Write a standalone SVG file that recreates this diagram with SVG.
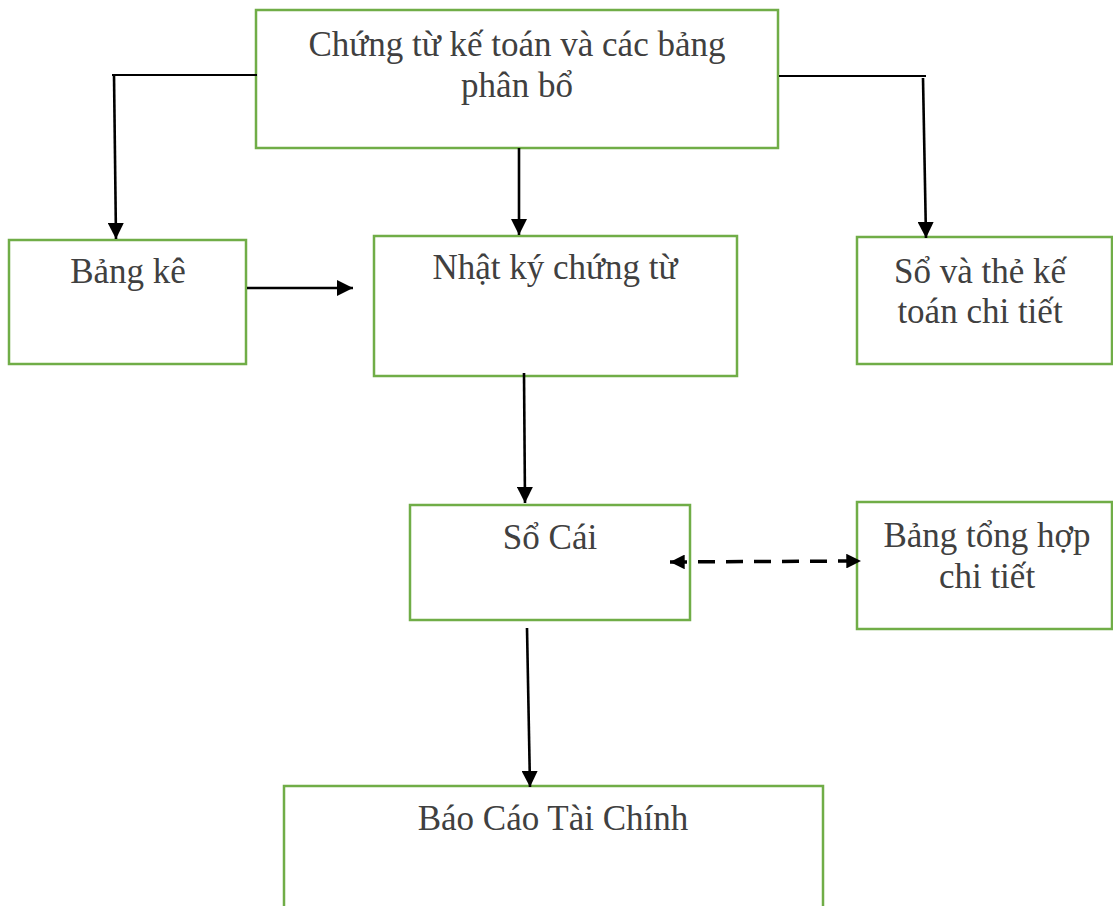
<svg xmlns="http://www.w3.org/2000/svg" width="1113" height="906" viewBox="0 0 1113 906">
  <style>
    .box { fill: #ffffff; stroke: #70AD47; stroke-width: 2.5; }
    .lbl { font-family: "Liberation Serif", "Times New Roman", serif; font-size: 35px; fill: #404040; text-anchor: middle; }
    .ln { fill: none; stroke: #000000; stroke-width: 2.6; }
    .thin { stroke-width: 1.8; }
    .dash { stroke-dasharray: 17 11; stroke-width: 3.5; }
  </style>
  <defs>
    <marker id="ah" viewBox="0 0 10 10" refX="10" refY="5" markerWidth="6.2" markerHeight="6.2" markerUnits="strokeWidth" orient="auto">
      <path d="M0,0 L10,5 L0,10 Z" fill="#000000"/>
    </marker>
    <marker id="ah2" viewBox="0 0 10 10" refX="10" refY="5" markerWidth="4.2" markerHeight="4.2" markerUnits="strokeWidth" orient="auto-start-reverse">
      <path d="M0,0 L10,5 L0,10 Z" fill="#000000"/>
    </marker>
  </defs>
  <rect width="1113" height="906" fill="#ffffff"/>

  <g id="chung-tu">
    <rect class="box" x="256" y="10" width="522" height="138"/>
    <text class="lbl" x="517" y="56">Chứng từ kế toán và các bảng</text>
    <text class="lbl" x="517" y="97">phân bổ</text>
  </g>

  <g id="bang-ke">
    <rect class="box" x="9" y="240" width="237" height="124"/>
    <text class="lbl" x="128" y="283">Bảng kê</text>
  </g>

  <g id="nhat-ky">
    <rect class="box" x="374" y="236" width="363" height="140"/>
    <text class="lbl" x="555" y="279">Nhật ký chứng từ</text>
  </g>

  <g id="so-the">
    <rect class="box" x="857" y="237" width="255" height="127"/>
    <text class="lbl" x="980" y="283">Sổ và thẻ kế</text>
    <text class="lbl" x="980" y="323">toán chi tiết</text>
  </g>

  <g id="so-cai">
    <rect class="box" x="410" y="505" width="280" height="115"/>
    <text class="lbl" x="550" y="549">Sổ Cái</text>
  </g>

  <g id="bang-tong-hop">
    <rect class="box" x="857" y="502" width="255" height="127"/>
    <text class="lbl" x="987" y="547">Bảng tổng hợp</text>
    <text class="lbl" x="987" y="588">chi tiết</text>
  </g>

  <g id="bao-cao">
    <rect class="box" x="284" y="786" width="539" height="140"/>
    <text class="lbl" x="553" y="830">Báo Cáo Tài Chính</text>
  </g>

  <!-- connectors sit above the boxes so the dashed link's left head shows inside Sổ Cái -->
  <g id="connectors">
    <line class="ln thin" x1="257" y1="75" x2="112" y2="75"/>
    <line class="ln" x1="114" y1="75" x2="116" y2="239" marker-end="url(#ah)"/>
    <line class="ln" x1="519" y1="148" x2="519" y2="235" marker-end="url(#ah)"/>
    <line class="ln thin" x1="779" y1="76" x2="926" y2="76"/>
    <line class="ln" x1="923" y1="78" x2="926" y2="238" marker-end="url(#ah)"/>
    <line class="ln" x1="247" y1="288" x2="353" y2="288" marker-end="url(#ah)"/>
    <line class="ln" x1="524" y1="373" x2="525" y2="503" marker-end="url(#ah)"/>
    <line class="ln dash" x1="670" y1="562" x2="861" y2="561" marker-start="url(#ah2)" marker-end="url(#ah2)"/>
    <line class="ln" x1="527" y1="628" x2="530" y2="787" marker-end="url(#ah)"/>
  </g>
</svg>
